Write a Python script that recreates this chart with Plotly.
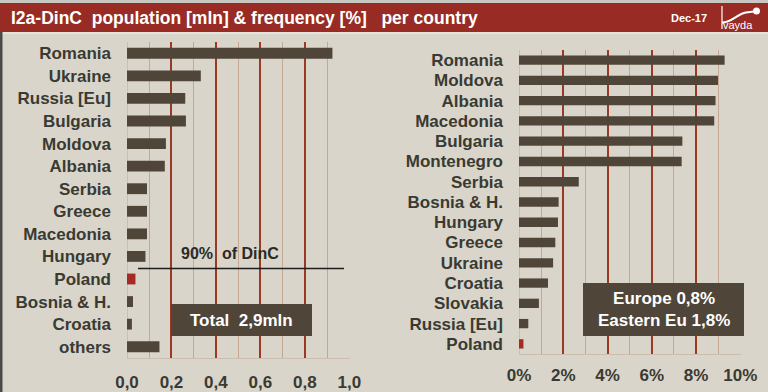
import plotly.graph_objects as go

# ---- data ----
left_countries = ["Romania", "Ukraine", "Russia [Eu]", "Bulgaria", "Moldova", "Albania",
                  "Serbia", "Greece", "Macedonia", "Hungary", "Poland", "Bosnia & H.",
                  "Croatia", "others"]
left_population = [0.924, 0.332, 0.262, 0.265, 0.175, 0.170, 0.090, 0.090, 0.090,
                   0.083, 0.038, 0.027, 0.022, 0.146]

right_countries = ["Romania", "Moldova", "Albania", "Macedonia", "Bulgaria", "Montenegro",
                   "Serbia", "Bosnia & H.", "Hungary", "Greece", "Ukraine", "Croatia",
                   "Slovakia", "Russia [Eu]", "Poland"]
right_frequency = [9.29, 8.99, 8.88, 8.82, 7.38, 7.35, 2.70, 1.79, 1.76, 1.64, 1.54,
                   1.31, 0.90, 0.42, 0.20]

left_tick_step = 0.2
right_tick_step = 2

BAR = "#4f4639"
RED = "#a52a24"
BG = "#d9d5ca"
HEADER = "#982c24"
MAJOR = "#9a3a22"
MINOR = "#c4a892"
TXT = "#3a3a32"

W, H = 768, 392
def px(x):
    return x / W
def py(y):
    return 1 - y / H

left_colors = [RED if c == "Poland" else BAR for c in left_countries]
right_colors = [RED if c == "Poland" else BAR for c in right_countries]

fig = go.Figure()
# empty traces to hold the minor-grid overlay axes
fig.add_trace(go.Scatter(x=[], y=[], xaxis="x3", yaxis="y", hoverinfo="skip"))
fig.add_trace(go.Scatter(x=[], y=[], xaxis="x4", yaxis="y2", hoverinfo="skip"))
fig.add_trace(go.Bar(x=left_population, y=left_countries, orientation="h",
                     marker=dict(color=left_colors, line=dict(width=0)), width=0.48,
                     xaxis="x", yaxis="y", hoverinfo="x+y"))
fig.add_trace(go.Bar(x=right_frequency, y=right_countries, orientation="h",
                     marker=dict(color=right_colors, line=dict(width=0)), width=0.46,
                     xaxis="x2", yaxis="y2", hoverinfo="x+y"))

tickfont = dict(family="Liberation Sans, Arial, sans-serif", size=17, color=TXT, weight="bold")
catfont = dict(family="Liberation Sans, Arial, sans-serif", size=17, color=TXT, weight="bold")

def xaxis_opts(step, rng, fmt, suffix, domain, anchor, standoff):
    return dict(domain=domain, range=rng, anchor=anchor, automargin=False,
                tickmode="linear", tick0=0, dtick=step, tickformat=fmt, ticksuffix=suffix,
                showgrid=True, gridcolor=MAJOR, gridwidth=2,
                zeroline=True, zerolinecolor="#cdbfb0", zerolinewidth=1,
                showline=True, linecolor="#cdbfb0", linewidth=1,
                ticks="", tickfont=tickfont, ticklabelstandoff=standoff)

def minor_axis(step, rng, domain, overlay, anchor):
    return dict(domain=domain, range=rng, anchor=anchor, overlaying=overlay, automargin=False,
                tickmode="linear", tick0=step / 2, dtick=step, showticklabels=False,
                showgrid=True, gridcolor=MINOR, gridwidth=1, zeroline=False,
                showline=False, ticks="")

def yaxis_opts(n, domain, anchor):
    return dict(domain=domain, anchor=anchor, automargin=False, range=[n - 0.5, -0.5],
                showgrid=False, zeroline=False, showline=False, ticks="",
                tickfont=catfont, ticklabelstandoff=15)

L_DOM = [px(127), px(350)]
R_DOM = [px(519), px(741)]
L_RNG = [0, 1.003]
R_RNG = [0, 10.03]

fig.update_layout(
    width=W, height=H, margin=dict(l=0, r=0, t=0, b=0, autoexpand=False),
    paper_bgcolor=BG, plot_bgcolor=BG, showlegend=False,
    separators=",.",
    xaxis=xaxis_opts(left_tick_step, L_RNG, ".1f", "", L_DOM, "y", 9),
    yaxis=yaxis_opts(len(left_countries), [py(358), py(42)], "x"),
    xaxis2=xaxis_opts(right_tick_step, R_RNG, "d", "%", R_DOM, "y2", 6),
    yaxis2=yaxis_opts(len(right_countries), [py(354), py(50)], "x2"),
    xaxis3=minor_axis(left_tick_step, L_RNG, L_DOM, "x", "y"),
    xaxis4=minor_axis(right_tick_step, R_RNG, R_DOM, "x2", "y2"),
)

shapes = [
    # header bar
    dict(type="rect", xref="paper", yref="paper", x0=0, x1=1, y0=py(32), y1=py(3),
         fillcolor=HEADER, line=dict(width=0), layer="above"),
    dict(type="rect", xref="paper", yref="paper", x0=0, x1=1, y0=py(3), y1=1,
         fillcolor="#c9c7c2", line=dict(width=0), layer="above"),
    dict(type="rect", xref="paper", yref="paper", x0=0, x1=1, y0=py(34), y1=py(32),
         fillcolor="#e6e3dc", line=dict(width=0), layer="above"),
    # left dark border
    dict(type="rect", xref="paper", yref="paper", x0=0, x1=px(2.5), y0=0, y1=py(32),
         fillcolor="#4a4a48", line=dict(width=0), layer="above"),
    # logo
    dict(type="line", xref="paper", yref="paper", x0=px(722), x1=px(722), y0=py(29), y1=py(6),
         line=dict(color="white", width=1.2), layer="above"),
    dict(type="path", xref="paper", yref="paper",
         path=f"M {px(722)},{py(22.5)} C {px(732)},{py(22.5)} {px(737)},{py(14)} {px(746)},{py(12.5)} L {px(754)},{py(11.5)}",
         line=dict(color="white", width=2), layer="above"),
    dict(type="circle", xref="paper", yref="paper", x0=px(753), x1=px(760), y0=py(14.5), y1=py(7.5),
         fillcolor="white", line=dict(width=0), layer="above"),
    # 90% line
    dict(type="line", xref="paper", yref="paper", x0=px(138), x1=px(344), y0=py(268.5), y1=py(268.5),
         line=dict(color="#1e1e1e", width=1.5), layer="above"),
    # total box
    dict(type="rect", xref="paper", yref="paper", x0=px(171), x1=px(312), y0=py(336), y1=py(304),
         fillcolor=BAR, line=dict(width=0), layer="above"),
    # Europe box
    dict(type="rect", xref="paper", yref="paper", x0=px(583), x1=px(744), y0=py(336), y1=py(283),
         fillcolor=BAR, line=dict(width=0), layer="above"),
]
fig.update_layout(shapes=shapes)

boxfont = dict(family="Liberation Sans, Arial, sans-serif", size=17, color="white", weight="bold")
annotations = [
    dict(text="I2a-DinC\u00a0 population [mln] & frequency [%]\u00a0\u00a0 per country",
         xref="paper", yref="paper", x=px(9), y=py(18), xanchor="left", yanchor="middle",
         showarrow=False,
         font=dict(family="Liberation Sans, Arial, sans-serif", size=17.5, color="white", weight="bold")),
    dict(text="Dec-17", xref="paper", yref="paper", x=px(689), y=py(18), xanchor="center",
         yanchor="middle", showarrow=False,
         font=dict(family="Liberation Sans, Arial, sans-serif", size=11, color="white", weight="bold")),
    dict(text="vayda", xref="paper", yref="paper", x=px(738), y=py(25.5), xanchor="center",
         yanchor="middle", showarrow=False,
         font=dict(family="Liberation Sans, Arial, sans-serif", size=11, color="white")),
    dict(text="90%\u00a0 of DinC", xref="paper", yref="paper", x=px(230), y=py(253),
         xanchor="center", yanchor="middle", showarrow=False,
         font=dict(family="Liberation Sans, Arial, sans-serif", size=16, color="#2a2a26", weight="bold")),
    dict(text="Total\u00a0 2,9mln", xref="paper", yref="paper", x=px(241.5), y=py(320),
         xanchor="center", yanchor="middle", showarrow=False, font=boxfont),
    dict(text="Europe 0,8%<br>Eastern Eu 1,8%", xref="paper", yref="paper", x=px(663.5), y=py(309.5),
         xanchor="center", yanchor="middle", showarrow=False, font=boxfont),
]
fig.update_layout(annotations=annotations)

fig.write_html("out.html", config={"displayModeBar": False},
               post_script="document.body.style.margin='0';document.body.style.overflow='hidden';")
